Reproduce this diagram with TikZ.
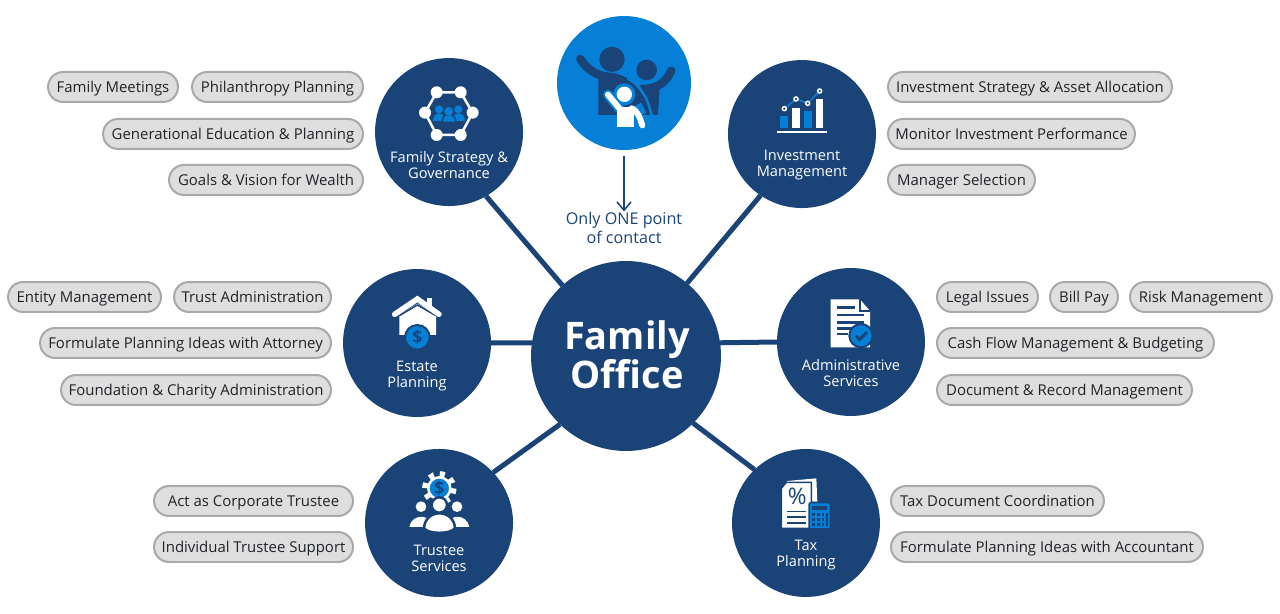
\documentclass[tikz,border=0pt]{standalone}
\usepackage{fontspec}
\setmainfont{Open Sans}
\usetikzlibrary{arrows.meta,positioning}

\definecolor{navy}{HTML}{1A4478}
\definecolor{azure}{HTML}{0680D7}
\definecolor{pillgray}{HTML}{DEDEDE}
\definecolor{pillline}{HTML}{A9A9A9}
\definecolor{pilltext}{HTML}{1F2328}

\tikzset{
	hub/.style={circle,fill=navy,minimum size=3.8cm,inner sep=0pt,outer sep=0pt},
	service/.style={circle,fill=navy,minimum size=2.96cm,inner sep=0pt,outer sep=0pt},
	servicetext/.style={text=white,align=center,inner sep=0pt,font=\fontsize{8.3}{9}\selectfont},
	spoke/.style={draw=navy,line width=0.1cm},
	pill/.style={draw=pillline,line width=0.04cm,fill=pillgray,text=pilltext,rounded corners=0.3cm,
		minimum height=0.6cm,inner sep=0pt,outer sep=0pt,text height=0.26cm,text depth=0.05cm,
		font=\fontsize{8.5}{10}\selectfont},
	pillleft/.style={pill,anchor=east},
	pillright/.style={pill,anchor=west},
	% coordinates of an icon, in thirds of a pixel from a corner
	iconat/.style 2 args={shift={(#1,#2)},x=0.00667cm,y=-0.00667cm},
}

\begin{document}
\begin{tikzpicture}[x=0.02cm,y=-0.02cm,on grid]
	\useasboundingbox (0,0) rectangle (1280,614);

	\node[hub] (office) at (626,356) {};
	\node[service] (strategy) [above left=4.48cm and 3.54cm of office] {};
	\node[service] (investment) [above right=4.44cm and 3.52cm of office] {};
	\node[service] (estate) [left=4.18cm of office,yshift=0.26cm] {};
	\node[service] (admin) [right=4.5cm of office,yshift=0.28cm] {};
	\node[service] (trustee) [below left=3.34cm and 3.74cm of office] {};
	\node[service] (tax) [below right=3.34cm and 3.6cm of office] {};
	\node[circle,fill=azure,minimum size=2.68cm,inner sep=0pt,outer sep=0pt] (client) at (624,83) {};

	\path[spoke]
		(office.132) edge (strategy.-60)
		(office.50) edge (investment.236)
		(office.172) edge (estate.east)
		(office.8.5) edge (admin.west)
		(office.226) edge (trustee.43)
		(office.-45) edge (tax.134);

	\node[text=white,align=center,inner sep=0pt,font=\fontsize{21.6}{22}\selectfont\bfseries] (officetext) at (627,355) {Family\\Office};
	\node[servicetext] (strategytext) [below=0.66cm of strategy] {Family Strategy \&\\Governance};
	\node[servicetext] (investmenttext) [below=0.62cm of investment] {Investment\\Management};
	\node[servicetext] (estatetext) [below=0.66cm of estate] {Estate\\Planning};
	\node[servicetext] (admintext) [below=0.62cm of admin] {Administrative\\Services};
	\node[servicetext] (trusteetext) [below=0.7cm of trustee] {Trustee\\Services};
	\node[servicetext] (taxtext) [below=0.64cm of tax] {Tax\\Planning};

	\node[text=navy,align=center,inner sep=0pt,font=\fontsize{9.2}{11.3}\selectfont] (contact) at (624,228) {Only ONE point\\of contact};
	\draw[navy,line width=0.03cm,-{Straight Barb[length=0.17cm,width=0.28cm]},shorten <=0.12cm] (client) -- (contact);

	% pills
	\node[pillleft,minimum width=2.6cm] (meetings) at (178,87) {Family Meetings};
	\node[pillleft,minimum width=3.42cm] (philanthropy) at (363,87) {Philanthropy Planning};
	\node[pillleft,minimum width=5.2cm] (education) at (363,134) {Generational Education \& Planning};
	\node[pillleft,minimum width=3.88cm] (goals) at (363,180) {Goals \& Vision for Wealth};

	\node[pillright,minimum width=5.68cm] (allocation) at (888,87) {Investment Strategy \& Asset Allocation};
	\node[pillright,minimum width=4.94cm] (monitor) at (888,134) {Monitor Investment Performance};
	\node[pillright,minimum width=2.94cm] (manager) at (888,180) {Manager Selection};

	\node[pillleft,minimum width=3.06cm] (entity) at (161,297) {Entity Management};
	\node[pillleft,minimum width=3.14cm] (trust) at (331,297) {Trust Administration};
	\node[pillleft,minimum width=5.82cm] (attorney) at (331,343) {Formulate Planning Ideas with Attorney};
	\node[pillleft,minimum width=5.4cm] (charity) at (331,390) {Foundation \& Charity Administration};

	\node[pillright,minimum width=2.02cm] (legal) at (937,297) {Legal Issues};
	\node[pillright,minimum width=1.36cm] (bill) at (1050,297) {Bill Pay};
	\node[pillright,minimum width=2.84cm] (risk) at (1130,297) {Risk Management};
	\node[pillright,minimum width=5.54cm] (cash) at (937,343) {Cash Flow Management \& Budgeting};
	\node[pillright,minimum width=5.1cm] (document) at (937,390) {Document \& Record Management};

	\node[pillleft,minimum width=3.98cm] (corporate) at (353,501) {Act as Corporate Trustee};
	\node[pillleft,minimum width=3.98cm] (individual) at (353,547) {Individual Trustee Support};

	\node[pillright,minimum width=4.26cm] (coordination) at (891,501) {Tax Document Coordination};
	\node[pillright,minimum width=6.24cm] (accountant) at (891,547) {Formulate Planning Ideas with Accountant};

	% client icon
	\begin{scope}[iconat={540}{0}]
		\fill[navy] (216,178) circle (38);
		\fill[navy] (320,210) circle (31);
		\draw[navy,line width=0.17cm,line cap=round] (121,177) .. controls (145,215) and (180,232) .. (225,232);
		\draw[navy,line width=0.17cm,line cap=round] (394,212) .. controls (380,240) and (365,255) .. (340,262);
		\fill[navy] (175,345) -- (175,235) -- (230,222) .. controls (285,235) and (322,280) .. (332,345) -- cycle;
		\fill[navy] (300,255) -- (360,250) -- (354,345) -- (330,345) -- cycle;
		\draw[azure,line width=0.05cm] (262,235) .. controls (300,255) and (325,295) .. (334,345);
		\fill[azure] (253,283) circle (33);
		\draw[azure,line width=0.2cm,line cap=round] (204,284) -- (238,325);
		\draw[azure,line width=0.2cm,line cap=butt] (290,315) -- (305,345);
		\fill[white] (253,283) circle (23);
		\fill[azure] (230,345) rectangle (282,382);
		\fill[white] (230,382) -- (230,322) -- (282,322) -- (282,382) -- cycle;
		\draw[white,line width=0.12cm,line cap=round] (204,284) -- (238,325);
		\draw[white,line width=0.12cm,line cap=round] (275,325) .. controls (295,335) and (300,355) .. (307,376);
	\end{scope}

	% strategy icon
	\begin{scope}[iconat={370}{60}]
		\draw[white,line width=0.05cm] (200,97) -- (272,97) -- (308,158) -- (272,225) -- (200,225) -- (165,158) -- cycle;
		\foreach \px/\py in {200/97,272/97,308/158,272/225,200/225,165/158}
			\fill[white] (\px,\py) circle (18);
		\fill[azure] (207,148) circle (12);
		\fill[azure] (265,148) circle (12);
		\fill[azure] (188,182) .. controls (188,152) and (226,152) .. (226,182) -- cycle;
		\fill[azure] (246,182) .. controls (246,152) and (285,152) .. (285,182) -- cycle;
		\draw[navy,line width=0.03cm,fill=azure] (216,187) .. controls (216,155) and (258,155) .. (258,187) -- cycle;
		\fill[azure] (236,154) circle (13);
	\end{scope}

	% investment icon
	\begin{scope}[iconat={725}{60}]
		\fill[white] (157,213) rectangle (305,218);
		\fill[azure] (166,168) rectangle (189,204);
		\fill[white] (202,143) rectangle (225,204);
		\fill[azure] (237,153) rectangle (260,204);
		\fill[white] (272,118) rectangle (295,204);
		\draw[azure,line width=0.03cm] (178,146) -- (213,117) -- (248,130) -- (284,93);
		\foreach \px/\py in {178/146,213/117,248/130,284/93}
			\draw[white,line width=0.03cm,fill=navy] (\px,\py) circle (6);
	\end{scope}

	% estate icon
	\begin{scope}[iconat={340}{265}]
		\fill[white] (262,100) rectangle (276,125);
		\fill[white] (178,150) -- (232,116) -- (288,150) -- (288,210) -- (178,210) -- cycle;
		\draw[navy,line width=0.03cm] (178,152) -- (232,120) -- (288,152);
		\draw[white,line width=0.11cm,line cap=round] (164,148) -- (232,102) -- (297,148);
		\draw[navy,line width=0.04cm,fill=azure] (232,217) circle (37);
		\node[text=navy,inner sep=0pt,font=\fontsize{10}{10}\selectfont\bfseries] (coin) at (232,218) {\$};
	\end{scope}

	% admin icon
	\begin{scope}[iconat={775}{265}]
		\fill[white] (167,103) -- (255,103) -- (285,138) -- (285,247) -- (167,247) -- cycle;
		\draw[navy,line width=0.03cm] (255,103) -- (255,138) -- (285,138);
		\draw[navy,line width=0.05cm]
			(187,128) -- (240,128)
			(187,150) -- (268,150)
			(187,172) -- (268,172)
			(187,190) -- (240,190)
			(187,207) -- (218,207);
		\draw[navy,line width=0.04cm,fill=azure] (258,212) circle (35);
		\draw[navy,line width=0.06cm] (243,212) -- (254,224) -- (276,201);
	\end{scope}

	% trustee icon
	\begin{scope}[iconat={360}{445}]
		\draw[white,line width=0.14cm,dash pattern=on 0.1cm off 0.115cm] (238,130) circle (41);
		\draw[white,line width=0.05cm,fill=azure] (238,130) circle (33);
		\node[text=navy,inner sep=0pt,font=\fontsize{10}{10}\selectfont\bfseries] (gear) at (238,130) {\$};
		\fill[white] (183,185) circle (16);
		\fill[white] (291,185) circle (16);
		\fill[white] (148,246) .. controls (155,205) and (212,205) .. (220,246) -- cycle;
		\fill[white] (258,246) .. controls (265,205) and (320,205) .. (328,246) -- cycle;
		\draw[navy,line width=0.05cm,fill=white] (238,180) circle (23);
		\draw[navy,line width=0.05cm,fill=white] (192,250) .. controls (195,190) and (282,190) .. (285,250) .. controls (270,268) and (207,268) .. (192,250) -- cycle;
	\end{scope}

	% tax icon
	\begin{scope}[iconat={728}{445}]
		\fill[white] (177,108) -- (265,100) -- (268,170) -- (177,170) -- cycle;
		\draw[navy,line width=0.03cm,fill=white] (175,112) -- (250,112) -- (250,250) -- (160,250) -- (160,130) -- cycle;
		\node[text=navy,inner sep=0pt,font=\fontsize{13}{13}\selectfont] (percent) at (208,155) {\%};
		\draw[navy,line width=0.03cm]
			(178,200) -- (235,200)
			(178,216) -- (235,216)
			(178,234) -- (235,234);
		\draw[navy,line width=0.03cm,fill=azure,rounded corners=0.03cm] (243,173) rectangle (307,252);
		\fill[navy] (253,182) rectangle (298,195);
		\foreach \py in {205,220,235}
			\foreach \px in {253,267,281}
				\fill[navy] (\px,\py) rectangle ++(8,8);
		\fill[navy] (293,205) rectangle (299,243);
	\end{scope}
\end{tikzpicture}
\end{document}
